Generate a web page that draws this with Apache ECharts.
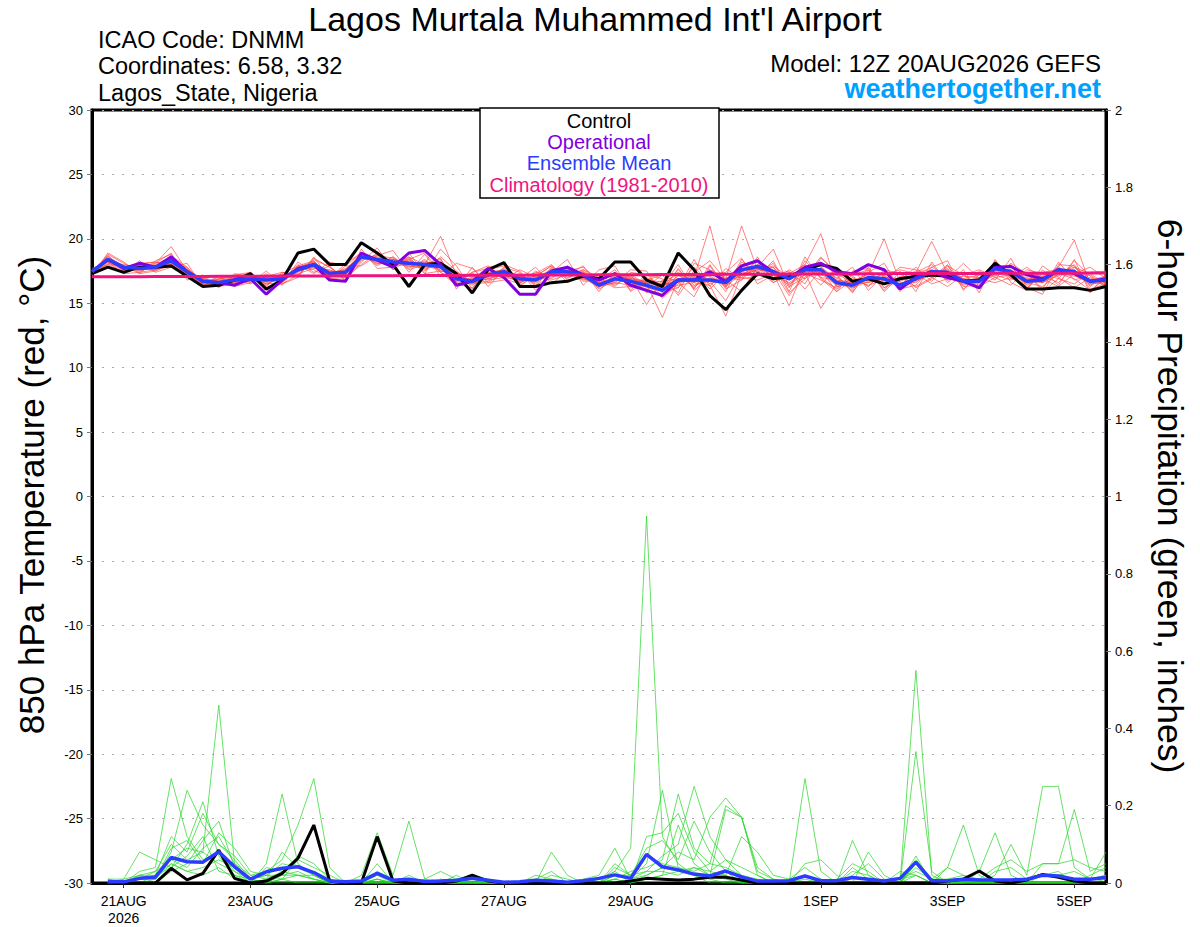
<!DOCTYPE html>
<html>
<head>
<meta charset="utf-8">
<script src="https://cdn.jsdelivr.net/npm/echarts@6.0.0/dist/echarts.min.js"></script>
<style>
html,body{margin:0;padding:0;background:#fff;}
#chart{width:1200px;height:927px;}
</style>
</head>
<body>
<div id="chart"></div>
<script>
// ---------- DATA (6-hourly, from 12Z 20AUG2026 to 12Z 5SEP2026, 65 steps) ----------
const tickIndex = [2, 10, 18, 26, 34, 46, 54, 62];
const tickLabels = ['21AUG\n2026', '23AUG', '25AUG', '27AUG', '29AUG', '1SEP', '3SEP', '5SEP'];

const controlTemp = [
 17.3,17.8,17.4,17.8,17.8,17.9,17.1,16.3,16.4,16.8,17.3,16.1,16.8,
 18.9,19.2,18.0,18.0,19.7,18.9,18.0,16.3,18.0,18.1,17.3,15.8,17.6,
 18.15,16.3,16.3,16.6,16.7,17.1,16.9,18.2,18.2,16.8,16.3,18.9,17.6,
 15.6,14.5,16.0,17.3,16.9,17.06,17.6,18.0,17.7,16.7,16.9,16.5,16.9,
 17.1,17.2,17.1,16.7,16.8,18.1,17.2,16.1,16.1,16.2,16.2,16.0,16.3];
const operationalTemp = [
 17.45,18.4,17.7,18.1,17.8,18.6,17.45,16.7,16.6,16.4,16.9,15.7,16.8,
 17.7,18.0,16.8,16.7,18.9,18.35,17.8,18.9,19.1,18.0,16.4,16.7,17.7,
 17.0,15.7,15.7,17.5,17.8,17.2,16.8,17.3,16.4,16.0,15.6,16.8,16.8,
 17.45,16.7,17.9,18.3,17.4,16.9,17.8,18.1,17.45,17.3,18.0,17.6,16.1,
 17.0,17.45,17.0,16.7,16.2,17.8,17.85,17.2,16.9,17.6,17.3,16.7,16.9];
const meanTemp = [
 17.45,18.4,17.8,17.7,17.8,18.3,17.45,16.7,16.6,16.8,16.9,16.8,16.9,
 17.6,18.0,17.3,17.4,18.6,18.4,18.2,18.1,18.0,17.85,16.9,16.7,17.2,
 17.45,16.9,16.8,17.45,17.45,17.2,16.4,16.9,16.7,16.4,16.0,16.8,16.8,
 16.8,16.6,17.6,17.85,17.45,16.9,17.6,17.6,16.6,16.4,17.0,16.9,16.4,
 16.9,17.45,17.4,16.7,16.7,17.7,17.45,16.7,16.8,17.6,17.45,16.7,16.8];
const climatologyTemp = [
 17.05,17.05,17.06,17.06,17.07,17.07,17.08,17.08,17.09,17.09,17.10,17.10,17.11,
 17.11,17.12,17.12,17.13,17.13,17.14,17.14,17.15,17.15,17.16,17.16,17.17,17.17,
 17.18,17.18,17.19,17.19,17.20,17.20,17.21,17.21,17.22,17.22,17.23,17.23,17.24,
 17.24,17.25,17.25,17.26,17.26,17.27,17.27,17.28,17.28,17.28,17.29,17.29,17.30,
 17.30,17.30,17.31,17.31,17.31,17.32,17.32,17.32,17.33,17.33,17.33,17.34,17.34];

const memberTemp01 = [
 17.4,18.6,17.9,17.5,17.9,18.5,17.2,16.5,16.4,16.9,17.2,16.6,16.8,
 17.9,18.3,17.0,17.6,18.9,18.1,18.0,18.4,17.6,18.3,16.5,16.2,17.6,
 17.9,16.4,17.1,17.9,17.0,17.5,15.9,17.4,16.2,16.9,15.5,17.3,16.2,
 17.4,15.9,18.2,17.4,18.1,16.2,18.3,17.0,16.1,17.0,16.3,17.5,15.9,
 17.4,18.0,16.8,17.3,16.1,18.3,17.0,16.2,17.3,17.1,18.0,16.3,17.2];
const memberTemp02 = [
 17.5,18.3,17.6,17.9,17.6,18.1,17.6,16.9,16.7,16.5,16.7,17.1,17.2,
 17.3,17.7,17.6,17.1,18.4,18.7,18.5,17.8,18.3,17.5,17.3,17.1,16.8,
 17.0,17.3,16.4,17.0,17.9,16.8,16.9,16.4,17.2,15.8,16.6,16.2,17.5,
 16.1,17.3,17.0,18.4,16.8,17.6,16.9,18.2,17.2,15.8,17.6,16.2,17.0,
 16.3,17.0,18.0,16.1,17.2,17.1,18.1,17.3,16.1,18.2,16.8,17.2,16.3];
const memberTemp03 = [
 17.3,18.2,18.0,17.8,18.1,19.4,17.5,16.6,16.8,16.6,17.0,16.9,16.6,
 17.8,18.2,17.4,17.2,18.7,18.3,17.9,18.6,18.0,20.2,17.2,16.5,17.4,
 17.6,16.7,17.4,17.2,17.6,17.0,16.2,17.2,16.5,16.1,16.3,17.1,17.0,
 21.0,16.3,17.8,18.2,17.0,17.3,18.0,20.4,16.3,16.7,17.3,16.5,16.7,
 17.2,17.8,17.0,16.5,17.0,17.5,17.9,16.4,17.1,17.8,17.2,16.5,17.0];
const memberTemp04 = [
 17.6,18.5,17.7,17.6,17.7,18.0,17.3,16.8,16.5,17.0,16.8,16.7,17.1,
 17.5,17.8,17.2,17.7,18.5,18.6,18.3,17.9,17.7,17.9,16.8,17.3,16.9,
 17.2,17.1,16.6,17.7,17.3,17.4,16.6,16.7,17.0,16.6,15.4,16.5,17.8,
 16.5,16.9,21.0,17.6,17.8,16.5,17.2,17.4,17.0,16.2,16.9,17.2,16.2,
 17.1,17.3,17.6,16.9,16.4,17.9,17.2,17.0,16.6,17.4,17.8,16.9,16.6];
const memberTemp05 = [
 17.5,18.4,17.8,17.9,17.5,18.2,17.7,16.7,16.9,16.7,17.1,16.5,17.0,
 17.4,18.1,17.5,17.2,18.8,18.2,18.4,18.0,18.2,18.1,16.6,16.9,17.1,
 17.7,16.6,17.0,17.6,17.7,16.9,16.5,17.0,16.4,16.9,16.2,17.6,16.4,
 16.7,15.2,17.4,18.0,17.3,14.8,17.9,17.0,16.8,16.6,17.3,20.0,16.6,
 16.6,17.6,17.2,16.8,16.9,17.6,17.6,16.9,17.0,17.3,17.1,16.8,16.9];
const memberTemp06 = [
 17.4,18.7,17.7,17.6,17.9,18.4,17.4,16.6,16.7,16.9,16.8,17.0,16.8,
 17.7,17.9,17.1,17.5,18.5,18.5,18.1,18.3,17.9,17.6,17.0,16.6,17.3,
 17.3,17.0,16.9,17.3,17.2,17.3,16.1,16.8,17.1,16.2,16.5,16.6,16.9,
 17.1,16.4,17.7,17.5,17.6,16.8,17.5,17.9,16.3,16.5,16.6,17.1,16.4,
 17.4,19.8,17.3,16.4,16.8,17.4,17.3,16.5,17.4,17.6,17.6,16.4,17.0];
const memberTemp07 = [
 17.3,18.1,17.9,17.7,17.8,18.2,17.6,16.8,16.6,16.7,16.9,16.9,16.7,
 17.6,18.0,17.3,17.3,18.6,18.4,18.2,18.1,18.1,17.7,17.1,16.8,17.0,
 17.5,16.8,16.9,17.4,17.5,17.1,16.6,16.9,16.8,16.5,13.9,16.9,16.7,
 16.8,16.7,17.5,17.9,17.4,17.1,17.7,17.5,16.7,16.4,17.0,16.8,16.5,
 16.8,17.3,17.4,16.7,16.7,17.8,17.5,16.8,16.7,17.5,17.3,16.7,16.8];
const memberTemp08 = [
 17.5,18.5,17.6,17.8,17.7,18.3,17.3,16.5,16.5,16.8,17.0,16.8,17.2,
 17.5,17.8,17.4,17.6,18.7,18.5,18.0,17.9,17.8,18.0,17.0,16.4,17.4,
 17.4,17.2,16.5,17.5,17.3,17.0,16.3,16.6,16.4,16.3,16.1,16.4,16.6,
 16.4,14.0,17.3,17.7,17.2,16.6,17.4,14.6,16.5,16.2,16.7,17.0,16.2,
 16.7,17.2,17.3,16.9,16.5,17.5,17.6,16.6,16.9,17.8,19.9,16.5,16.6];
const memberTemp09 = [
 17.4,18.3,17.8,17.6,18.0,18.6,17.5,16.9,16.5,16.6,16.8,17.2,16.9,
 17.8,18.2,17.2,17.4,18.5,18.3,18.4,18.2,17.9,17.8,16.7,17.0,17.2,
 17.2,16.6,17.2,17.3,17.6,17.2,16.4,17.1,16.9,16.7,16.7,16.9,17.1,
 16.9,16.8,17.6,17.8,17.5,16.9,17.6,17.6,16.8,16.6,16.8,16.7,16.9,
 16.9,17.5,17.5,16.6,16.9,17.6,17.4,16.7,16.6,17.7,17.5,16.8,17.1];
const memberTemp10 = [
 17.5,18.4,17.7,17.8,17.8,18.1,17.4,16.7,16.7,16.9,16.9,16.8,17.0,
 17.6,17.9,17.3,17.3,18.6,18.4,18.2,18.0,18.0,17.9,16.9,16.7,17.2,
 17.4,16.9,16.8,17.5,17.4,17.1,16.5,16.9,16.8,16.4,16.2,16.8,16.8,
 16.8,16.6,17.5,17.8,17.4,16.9,17.5,17.6,16.6,16.4,17.0,16.9,16.4,
 16.8,17.4,17.4,16.7,16.7,17.7,17.5,16.7,16.8,17.6,17.4,16.7,16.8];
const memberTemp11 = [
 17.2,18.8,18.1,17.4,17.6,18.7,17.8,16.4,16.9,17.1,16.6,17.3,16.5,
 17.2,18.4,17.8,17.0,18.3,18.8,17.8,18.5,17.5,18.6,17.5,16.6,16.7,
 17.8,17.4,16.3,17.8,16.9,17.6,17.0,16.3,17.4,17.2,16.9,15.8,18.1,
 17.6,17.0,16.8,18.6,16.6,17.4,16.5,18.5,17.5,17.1,16.3,17.6,17.3,
 16.2,16.9,17.9,17.2,16.2,18.1,16.9,17.4,15.9,16.9,18.3,17.1,16.2];
const memberTemp12 = [
 17.6,18.2,17.5,18.0,18.2,17.9,17.1,17.0,16.3,16.5,17.3,16.4,17.3,
 17.9,17.6,16.9,17.9,18.9,17.9,18.6,17.7,18.4,17.4,16.4,17.4,17.7,
 16.9,16.5,17.5,16.9,17.8,16.7,16.8,17.6,16.0,17.3,15.9,17.7,16.1,
 18.0,16.2,18.4,17.1,18.3,15.9,18.6,16.9,15.9,17.5,17.7,16.0,17.5,
 15.9,18.2,16.6,17.6,15.8,18.4,16.6,16.0,17.6,16.4,18.4,15.8,17.3];
const memberTemp13 = [
 17.2,18.9,18.2,17.3,18.3,18.8,17.0,17.1,16.2,17.2,17.4,16.3,17.4,
 17.1,18.5,17.8,16.8,18.2,19.3,17.6,18.9,17.3,19.2,17.9,16.1,17.8,
 18.0,17.5,16.0,17.4,18.4,16.4,17.6,17.9,15.9,16.8,17.2,15.6,17.4,
 18.3,16.8,15.9,17.8,19.2,16.3,17.0,18.6,17.2,15.9,17.4,18.1,16.1,
 16.4,17.8,18.3,16.0,17.5,16.8,18.5,16.2,15.7,18.0,17.9,16.1,16.5];
const memberTemp14 = [
 17.6,18.0,17.4,18.3,17.4,17.8,18.1,16.3,17.1,16.3,16.6,17.5,16.4,
 18.0,17.3,18.2,17.9,17.9,18.7,19.1,17.4,18.8,17.1,18.1,17.7,16.6,
 16.8,17.6,17.0,16.8,17.2,17.9,16.3,16.6,17.6,17.5,15.8,16.2,18.4,
 16.3,17.7,16.9,17.1,17.8,15.8,16.9,17.8,16.9,17.8,16.0,17.2,17.6,
 17.3,16.5,16.9,18.1,16.9,16.6,17.0,17.8,16.9,16.3,17.3,17.8,16.9];
const memberTemp15 = [
 17.1,18.7,17.5,18.1,18.2,18.0,17.2,16.4,16.9,16.9,16.5,17.1,17.4,
 17.2,18.3,16.9,18.1,18.9,18.0,18.6,17.6,18.0,18.5,16.1,17.8,16.3,
 17.6,16.3,17.3,18.0,16.8,16.9,17.2,16.5,17.0,14.9,16.8,17.4,16.6,
 17.3,17.4,18.5,16.5,17.2,17.5,16.1,17.6,15.9,16.8,16.4,16.8,17.8,
 17.6,17.0,16.3,17.2,17.6,17.0,16.4,17.6,17.3,16.9,16.5,17.4,17.5];
const memberTemp16 = [
 17.7,18.2,17.3,17.4,18.1,18.9,16.8,17.2,16.3,17.3,17.1,16.5,16.6,
 18.2,17.4,17.9,16.7,19.2,17.7,17.8,18.6,17.3,17.5,17.4,16.5,16.6,
 17.4,16.9,17.8,16.5,17.5,17.8,16.8,16.2,16.3,17.0,16.4,18.0,16.0,
 17.0,16.3,17.3,17.5,16.6,17.2,17.7,16.4,17.8,16.0,17.8,16.2,16.8,
 17.8,16.7,17.9,16.3,16.4,17.3,18.0,16.1,17.9,17.0,16.2,17.0,16.4];
const memberTemp17 = [
 17.3,18.0,17.9,17.3,17.5,18.0,17.8,16.5,17.1,16.4,17.4,16.2,16.5,
 17.0,18.6,16.9,17.0,18.0,18.9,17.6,18.4,18.9,17.4,16.7,17.4,17.9,
 17.0,16.8,17.1,17.9,16.6,17.4,16.9,17.3,16.6,16.3,17.2,16.6,15.5,
 17.9,16.1,16.8,18.0,17.5,15.6,17.3,16.8,16.2,17.2,17.6,15.9,17.1,
 16.8,17.2,17.7,16.6,16.3,17.0,17.2,16.6,16.3,17.3,16.9,16.0,16.9];
const memberTemp18 = [
 17.5,18.5,17.8,17.8,17.6,18.3,17.5,16.6,16.7,16.8,16.7,17.0,16.8,
 17.6,18.1,17.4,17.5,18.7,18.1,18.4,18.0,17.9,18.4,16.8,16.9,17.3,
 17.6,17.1,16.7,17.2,17.7,17.0,16.7,17.4,16.8,16.6,16.4,16.7,17.0,
 16.7,16.6,17.2,17.6,17.9,17.0,18.0,17.3,16.4,16.9,16.6,17.0,16.9,
 17.5,17.5,17.3,16.9,17.2,17.3,17.1,17.2,16.6,17.2,17.6,16.6,16.7];
const memberTemp19 = [
 17.4,18.4,17.6,17.9,17.9,18.2,17.2,16.8,16.6,16.9,17.0,16.8,17.0,
 17.5,17.9,17.5,17.4,18.5,18.3,18.2,18.2,17.8,17.9,17.2,16.6,16.9,
 17.3,16.7,17.0,17.3,17.2,17.6,16.5,16.8,17.2,16.5,16.7,17.2,16.3,
 17.5,16.9,17.0,16.8,17.3,16.4,17.6,17.2,17.3,16.6,17.1,16.8,17.0,
 17.0,17.6,16.8,17.1,17.0,17.2,16.8,17.3,17.1,16.6,17.8,17.3,16.5];
const memberTemp20 = [
 17.5,18.3,17.7,17.7,17.8,18.4,17.6,16.6,16.8,16.7,16.9,16.9,16.9,
 17.6,18.0,17.3,17.5,18.6,18.4,18.3,18.0,18.1,17.7,16.9,16.8,17.1,
 17.5,16.8,16.9,17.4,17.4,17.1,16.6,16.9,16.9,16.6,16.3,16.9,16.7,
 16.8,16.7,17.5,17.7,17.4,16.9,17.4,17.5,16.7,16.5,17.0,16.9,16.5,
 16.9,17.4,17.3,16.8,16.8,17.6,17.4,16.8,16.9,17.5,17.3,16.8,16.9];

const controlPrecip = [
 null,0,0,0,0,0.038,0.008,0.025,0.085,0.012,0,0.005,0.025,
 0.064,0.15,0.005,0,0,0.12,0.005,0,0,0,0.005,0.02,0.005,
 0,0,0,0,0,0,0,0,0.005,0.012,0.01,0.008,0.01,
 0.015,0.015,0.008,0,0,0,0,0,0,0,0,0,0,
 0,0,0.005,0.01,0.031,0.005,0,0.008,0.022,0.015,0.005,0,0];
const meanPrecip = [
 null,0.003,0.003,0.012,0.015,0.066,0.055,0.054,0.081,0.042,0.01,0.029,0.038,
 0.042,0.027,0.005,0.003,0.005,0.025,0.007,0.01,0.004,0.005,0.007,0.012,0.007,
 0.002,0.003,0.007,0.005,0.002,0.006,0.012,0.021,0.012,0.074,0.042,0.034,0.023,
 0.018,0.031,0.016,0.005,0.005,0.006,0.018,0.006,0.006,0.014,0.01,0.005,0.012,
 0.054,0.006,0.006,0.01,0.008,0.008,0.008,0.01,0.02,0.018,0.01,0.01,0.014];

const memberPrecip01 = [
 null,0,0,0.01,0.02,0.05,0.03,0.02,0.04,0.01,0,0,0.01,
 0.02,0.01,0,0,0,0.01,0,0,0,0.01,0,0,0,
 0,0,0,0.01,0,0,0.01,0.03,0.09,0.95,0.12,0.05,0.02,
 0.01,0,0,0,0,0,0,0,0,0,0,0,0.01,
 0.02,0,0,0,0,0,0,0,0,0,0,0,0];
const memberPrecip02 = [
 null,0,0.01,0.02,0.03,0.10,0.06,0.08,0.46,0.05,0.01,0,0,
 0,0,0,0,0,0.02,0,0,0,0,0,0,0,
 0,0,0,0,0,0,0,0.02,0.01,0.05,0.24,0.04,0.02,
 0,0,0,0,0,0,0.02,0,0,0,0,0,0,
 0.55,0.02,0,0,0,0,0,0,0,0,0,0,0];
const memberPrecip03 = [
 null,0.01,0,0.03,0.04,0.27,0.12,0.06,0.08,0.03,0.01,0.02,0.05,
 0.04,0.02,0,0,0,0.01,0,0.01,0,0,0,0.02,0,
 0,0,0,0.02,0.01,0,0,0.01,0,0.12,0.13,0.18,0.08,
 0.03,0.02,0,0,0,0,0.27,0.03,0,0,0,0,0,
 0.02,0,0,0,0,0,0,0,0,0,0,0,0];
const memberPrecip04 = [
 null,0,0,0.02,0.01,0.08,0.24,0.15,0.10,0.06,0.01,0,0.01,
 0,0,0,0,0,0,0,0,0,0,0,0,0,
 0,0,0.02,0.01,0,0,0,0.05,0.02,0.03,0.07,0.10,0.25,
 0.12,0.06,0.02,0,0,0,0.05,0.06,0.02,0,0,0,0,
 0.34,0.03,0,0,0,0,0,0,0,0,0,0,0];
const memberPrecip05 = [
 null,0,0,0,0.02,0.04,0.10,0.21,0.07,0.02,0,0.05,0.23,
 0.05,0.02,0,0,0,0,0,0,0,0,0,0,0,
 0,0,0,0,0,0.01,0.02,0.09,0.01,0.02,0.04,0.08,0.06,
 0.17,0.22,0.17,0.04,0.01,0,0,0,0,0.11,0.02,0,0,
 0.05,0,0,0,0,0,0,0,0.05,0.05,0.19,0.03,0.05];
const memberPrecip06 = [
 null,0,0,0.01,0.02,0.06,0.04,0.09,0.12,0.05,0.02,0.03,0.06,
 0.15,0.27,0.04,0,0,0,0,0,0,0,0,0,0,
 0,0,0,0,0,0,0,0.03,0,0.02,0.04,0.03,0.04,
 0.02,0.19,0.17,0.02,0,0,0.01,0,0,0,0.08,0.02,0,
 0,0,0.04,0.15,0.02,0,0,0,0,0,0,0,0];
const memberPrecip07 = [
 null,0,0,0,0.01,0.05,0.03,0.04,0.06,0.04,0,0.01,0.03,
 0.02,0.01,0,0,0.02,0.13,0.02,0.16,0.01,0.03,0.01,0.01,0,
 0,0,0,0,0,0,0,0.01,0,0.01,0.02,0.15,0.05,
 0.02,0.01,0,0,0,0,0,0,0,0.03,0.02,0,0,
 0.04,0.01,0,0,0.03,0.13,0.02,0,0,0,0,0.02,0.04];
const memberPrecip08 = [
 null,0.01,0.01,0.08,0.06,0.04,0.07,0.12,0.03,0.02,0.01,0.02,0.01,
 0.06,0.04,0.02,0,0,0.01,0,0,0,0,0.01,0.02,0.01,
 0,0,0.01,0.03,0,0,0,0.04,0.02,0.07,0.05,0.04,0.03,
 0.05,0.04,0.02,0.01,0,0.01,0.04,0.01,0,0.02,0.05,0.01,0,
 0.06,0.01,0.04,0.02,0,0.02,0.10,0.02,0.25,0.25,0.04,0.01,0.02];
const memberPrecip09 = [
 null,0,0,0.02,0.02,0.12,0.08,0.18,0.10,0.07,0.02,0.01,0.08,
 0.04,0.03,0.01,0,0,0.03,0.01,0,0,0,0,0,0,
 0,0,0,0.08,0.02,0,0,0.02,0.02,0.09,0.11,0.06,0.16,
 0.08,0.03,0,0,0,0,0,0,0,0.04,0.01,0,0,
 0.07,0,0,0.01,0,0.03,0.04,0.01,0.02,0.02,0.03,0.01,0.02];
const memberPrecip10 = [
 null,0,0,0.01,0.01,0.09,0.11,0.05,0.13,0.09,0.03,0.02,0.02,
 0.03,0.01,0,0,0,0.05,0,0,0.01,0,0,0.01,0,
 0,0,0,0,0,0,0,0.01,0.03,0.04,0.06,0.23,0.09,
 0.05,0.20,0.17,0.03,0.01,0,0,0.01,0,0,0,0,0.03,
 0.02,0,0,0,0.01,0,0.01,0,0.02,0.03,0,0,0.01];
const memberPrecip11 = [
 null,0,0,0,0,0.03,0.05,0.11,0.16,0.04,0.01,0,0.02,
 0.02,0.02,0,0,0,0,0,0,0,0,0,0,0,
 0,0,0,0,0,0,0,0,0,0.01,0.02,0.03,0.02,
 0.02,0.02,0.12,0.08,0.02,0.01,0,0,0,0,0,0,0,
 0.05,0,0,0,0,0,0,0,0,0,0,0.01,0.08];
const memberPrecip12 = [
 null,0.01,0,0.01,0.03,0.06,0.09,0.08,0.05,0.03,0,0.04,0.03,
 0.07,0.05,0.01,0,0,0,0,0.02,0,0,0.02,0,0,
 0,0,0,0,0,0,0.01,0.02,0.01,0.03,0.03,0.02,0.04,
 0.03,0.06,0.04,0.02,0,0,0.02,0,0.01,0.05,0.03,0,0.01,
 0.03,0.01,0.01,0.02,0.01,0.04,0.06,0.03,0.05,0.05,0.06,0.04,0.03];

const memberTemps = [memberTemp01, memberTemp02, memberTemp03, memberTemp04, memberTemp05, memberTemp06,
  memberTemp07, memberTemp08, memberTemp09, memberTemp10, memberTemp11, memberTemp12,
  memberTemp13, memberTemp14, memberTemp15, memberTemp16, memberTemp17, memberTemp18, memberTemp19, memberTemp20];
const memberPrecips = [memberPrecip01, memberPrecip02, memberPrecip03, memberPrecip04, memberPrecip05, memberPrecip06,
  memberPrecip07, memberPrecip08, memberPrecip09, memberPrecip10, memberPrecip11, memberPrecip12];

// ---------- CHART ----------
const FONT = '"Liberation Sans", Arial, Helvetica, sans-serif';
const categories = controlTemp.map((_, i) => 'f' + (i * 6));
const isTick = (idx) => tickIndex.indexOf(idx) >= 0;

const C_CTRL = '#000000', C_OPER = '#8000e0', C_MEAN = '#2a3cff', C_CLIM = '#f0147f';
const C_RED = 'rgba(255,70,70,0.85)', C_GREEN = 'rgba(40,215,40,0.9)';

const series = [];
memberTemps.forEach((d, k) => series.push({
  name: 'tm' + k, type: 'line', yAxisIndex: 0, data: d, symbol: 'none', silent: true, z: 2,
  lineStyle: { color: C_RED, width: 0.8 }
}));
memberPrecips.forEach((d, k) => series.push({
  name: 'pm' + k, type: 'line', yAxisIndex: 1, data: d, symbol: 'none', silent: true, z: 2,
  lineStyle: { color: C_GREEN, width: 0.8 }
}));
series.push({ name: 'Control', type: 'line', yAxisIndex: 0, data: controlTemp, symbol: 'none', z: 5, lineStyle: { color: C_CTRL, width: 3 } });
series.push({ name: 'ControlP', type: 'line', yAxisIndex: 1, data: controlPrecip, symbol: 'none', z: 5, lineStyle: { color: C_CTRL, width: 3 } });
series.push({ name: 'Operational', type: 'line', yAxisIndex: 0, data: operationalTemp, symbol: 'none', z: 6, lineStyle: { color: C_OPER, width: 3 } });
series.push({ name: 'Ensemble Mean', type: 'line', yAxisIndex: 0, data: meanTemp, symbol: 'none', z: 7, lineStyle: { color: C_MEAN, width: 3.5 } });
series.push({ name: 'MeanP', type: 'line', yAxisIndex: 1, data: meanPrecip, symbol: 'none', z: 7, lineStyle: { color: C_MEAN, width: 3.5 } });
series.push({ name: 'Climatology', type: 'line', yAxisIndex: 0, data: climatologyTemp, symbol: 'none', z: 8, lineStyle: { color: C_CLIM, width: 3 } });

function txt(text, x, y, size, color, align, weight, rot) {
  return {
    type: 'text', x: x, y: y, rotation: rot || 0, z: 101,
    style: {
      text: text, fill: color, fontSize: size, fontFamily: FONT, fontWeight: weight || 'normal',
      align: align, verticalAlign: 'middle', textAlign: align, textVerticalAlign: 'middle'
    }
  };
}

const option = {
  animation: false,
  backgroundColor: '#ffffff',
  textStyle: { fontFamily: FONT },
  grid: { left: 92, right: 94, top: 110, bottom: 44, show: true, borderColor: '#000', borderWidth: 3, containLabel: false },
  xAxis: {
    type: 'category', data: categories, boundaryGap: false,
    axisLine: { show: true, onZero: false, lineStyle: { color: '#000', width: 3 } },
    axisTick: { show: true, interval: (idx) => isTick(idx), length: 5, lineStyle: { color: '#333', width: 1 } },
    axisLabel: {
      interval: (idx) => isTick(idx), color: '#000', fontSize: 14, fontFamily: FONT, margin: 9, lineHeight: 17,
      formatter: (v, idx) => { const k = tickIndex.indexOf(idx); return k >= 0 ? tickLabels[k] : ''; }
    },
    splitLine: { show: false }
  },
  yAxis: [
    {
      type: 'value', min: -30, max: 30, interval: 5, position: 'left',
      axisLine: { show: true, onZero: false, lineStyle: { color: '#000', width: 3 } },
      axisTick: { show: true, length: 5, lineStyle: { color: '#777', width: 1 } },
      axisLabel: { color: '#000', fontSize: 13, fontFamily: FONT, margin: 9 },
      splitLine: { show: true, lineStyle: { color: '#aaaaaa', width: 1, type: [2, 8] } }
    },
    {
      type: 'value', min: 0, max: 2, interval: 0.2, position: 'right',
      axisLine: { show: true, onZero: false, lineStyle: { color: '#000', width: 3 } },
      axisTick: { show: true, length: 5, lineStyle: { color: '#777', width: 1 } },
      axisLabel: { color: '#000', fontSize: 13, fontFamily: FONT, margin: 9 },
      splitLine: { show: false }
    }
  ],
  graphic: [
    txt("Lagos Murtala Muhammed Int'l Airport", 595, 19, 34, '#000', 'center'),
    txt('ICAO Code: DNMM', 98, 40, 23.5, '#000', 'left'),
    txt('Coordinates: 6.58, 3.32', 98, 66, 23.5, '#000', 'left'),
    txt('Lagos_State, Nigeria', 98, 93, 23.5, '#000', 'left'),
    txt('Model: 12Z 20AUG2026 GEFS', 1101, 63, 24, '#000', 'right'),
    txt('weathertogether.net', 1101, 89, 27, '#00a0ff', 'right', 'bold'),
    txt('850 hPa Temperature (red, °C)', 31, 495, 35, '#000', 'center', 'normal', Math.PI / 2),
    txt('6-hour Precipitation (green, inches)', 1170, 496, 35.5, '#000', 'center', 'normal', -Math.PI / 2),
    { type: 'rect', z: 100, shape: { x: 480, y: 108, width: 239, height: 90 }, style: { fill: '#fff', stroke: '#000', lineWidth: 1.5 } },
    txt('Control', 599, 121, 20, C_CTRL, 'center'),
    txt('Operational', 599, 142, 20, C_OPER, 'center'),
    txt('Ensemble Mean', 599, 163, 20, C_MEAN, 'center'),
    txt('Climatology (1981-2010)', 599, 185, 20, C_CLIM, 'center')
  ],
  series: series
};

const chart = echarts.init(document.getElementById('chart'), null, { renderer: 'svg', width: 1200, height: 927 });
chart.setOption(option);
</script>
</body>
</html>
